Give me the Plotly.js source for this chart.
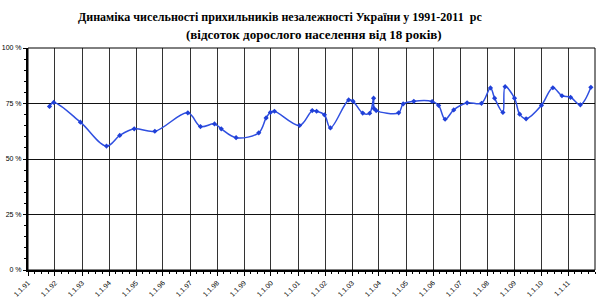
<!DOCTYPE html>
<html><head><meta charset="utf-8">
<script src="https://cdn.plot.ly/plotly-3.0.1.min.js"></script>
<style>html,body{margin:0;padding:0;background:#fff}#c{width:600px;height:297px}</style>
</head><body><div id="c"></div>
<script>
const dates = ['1991-10-19','1991-12-15','1992-12-10','1993-11-28','1994-05-26','1994-12-08','1995-09-13','1996-12-02','1997-05-22','1997-11-28','1998-02-27','1998-09-16','1999-07-20','1999-10-27','1999-12-24','2000-02-17','2001-01-22','2001-07-12','2001-09-09','2001-12-24','2002-03-15','2002-11-17','2003-01-15','2003-05-26','2003-08-28','2003-10-20','2003-10-25','2003-11-24','2004-09-23','2004-11-23','2005-04-16','2005-12-20','2006-03-18','2006-06-13','2006-10-08','2007-04-07','2007-10-19','2008-02-17','2008-04-13','2008-08-03','2008-09-02','2009-01-07','2009-03-18','2009-06-13','2010-01-07','2010-06-10','2010-10-11','2011-02-05','2011-06-17','2011-11-06'];
const support = [73.7,75.5,66.6,55.8,60.6,63.6,62.5,70.8,64.6,65.8,63.6,59.6,61.8,68.5,71.0,71.5,65.1,71.8,71.5,69.9,64.0,76.6,76.0,70.7,70.6,77.4,72.8,71.8,70.8,74.8,76.0,75.9,74.1,67.9,72.1,75.3,75.1,82.0,77.4,71.0,82.6,77.4,70.2,68.1,74.2,82.1,78.5,77.8,74.4,82.3];
const tickDates = ['1991-01-01','1992-01-01','1993-01-01','1994-01-01','1995-01-01','1996-01-01','1997-01-01','1998-01-01','1999-01-01','2000-01-01','2001-01-01','2002-01-01','2003-01-01','2004-01-01','2005-01-01','2006-01-01','2007-01-01','2008-01-01','2009-01-01','2010-01-01','2011-01-01'];
const tickLabels = ['1.1.91','1.1.92','1.1.93','1.1.94','1.1.95','1.1.96','1.1.97','1.1.98','1.1.99','1.1.00','1.1.01','1.1.02','1.1.03','1.1.04','1.1.05','1.1.06','1.1.07','1.1.08','1.1.09','1.1.10','1.1.11'];
const yTicks = [0,25,50,75,100];
const titleLine1 = 'Динаміка чисельності прихильників незалежності України у 1991-2011  рс';
const titleLine2 = '(відсоток дорослого населення від 18 років)';

const trace = {
  x: dates, y: support, type:'scatter', mode:'lines+markers',
  line:{color:'#2f4fe0', width:1.5, shape:'spline', smoothing:1},
  marker:{symbol:'diamond', size:4, color:'#2040d8'},
  hoverinfo:'skip'
};
const layout = {
  width:600, height:297,
  margin:{l:28, r:5, t:48, b:27},
  paper_bgcolor:'#fff', plot_bgcolor:'#fff',
  showlegend:false,
  xaxis:{
    type:'date', range:['1991-01-01','2012-01-01'],
    tickvals:tickDates, ticktext:tickLabels, tickangle:-45,
    tickfont:{family:'Liberation Sans, Arial', size:7, color:'#000'},
    ticks:'outside', ticklen:4, tickcolor:'#000',
    showgrid:true, gridcolor:'#333', gridwidth:1,
    showline:true, linecolor:'#000', linewidth:2, mirror:false,
    minor:{ticks:'outside', ticklen:2, tickcolor:'#000', dtick:'M3', showgrid:false},
    zeroline:false, fixedrange:true
  },
  yaxis:{
    range:[0,100], tickvals:yTicks, ticktext:yTicks.map(v=>v+' %'),
    tickfont:{family:'Liberation Sans, Arial', size:7, color:'#000'},
    ticks:'outside', ticklen:3, tickcolor:'#000',
    showgrid:true, gridcolor:'#111', gridwidth:1,
    showline:true, linecolor:'#000', linewidth:2,
    minor:{ticks:'outside', ticklen:2, tickcolor:'#000', dtick:5, showgrid:false},
    zeroline:false, fixedrange:true
  },
  shapes:[
    {type:'rect', xref:'paper', yref:'paper', x0:0, x1:1, y0:0, y1:1, line:{color:'#000', width:1}}
  ],
  annotations:[
    {text:'<b>'+titleLine1+'</b>', xref:'paper', yref:'paper', x:0.445, y:1, yshift:22, showarrow:false, xanchor:'center', yanchor:'bottom',
     font:{family:'Liberation Serif, Times New Roman', size:12, color:'#000'}},
    {text:'<b>'+titleLine2+'</b>', xref:'paper', yref:'paper', x:0.505, y:1, yshift:4, showarrow:false, xanchor:'center', yanchor:'bottom',
     font:{family:'Liberation Serif, Times New Roman', size:13, color:'#000'}}
  ]
};
Plotly.newPlot('c',[trace],layout,{staticPlot:true, displayModeBar:false});
</script></body></html>
